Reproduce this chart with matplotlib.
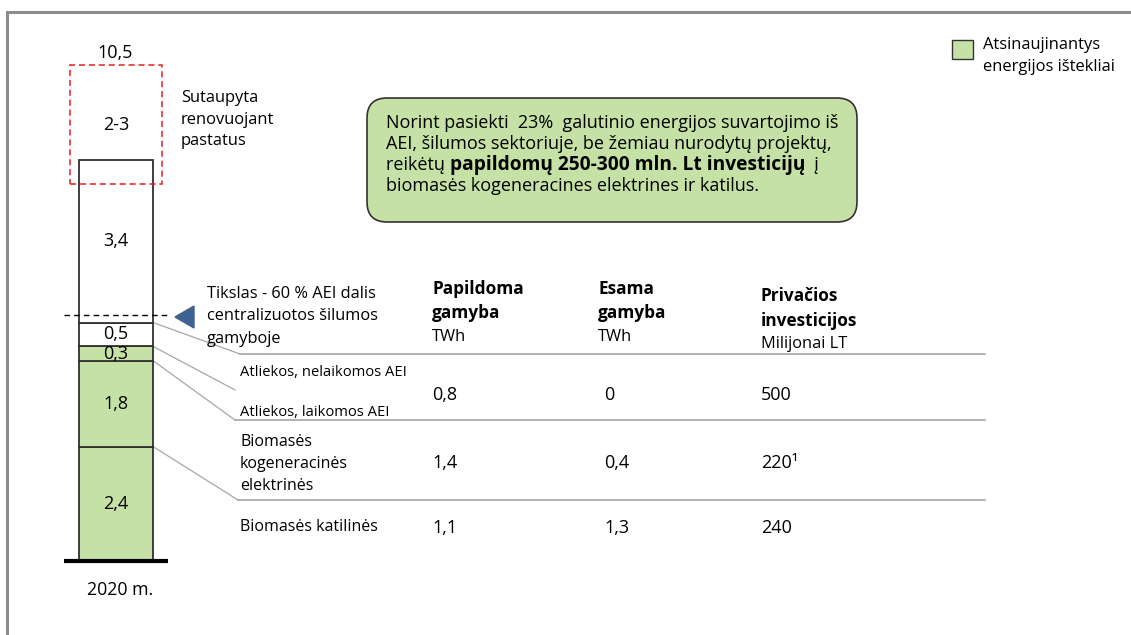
import numpy as np
import matplotlib
matplotlib.use("Agg")
import matplotlib.pyplot as plt
from matplotlib.patches import FancyBboxPatch, Rectangle, Polygon

plt.rcParams['font.family'] = ['Open Sans', 'DejaVu Sans']

# stacked column for 2020 (TWh), from bottom to top
segment_values = [2.4, 1.8, 0.3, 0.5, 3.4]
segment_labels = ['2,4', '1,8', '0,3', '0,5', '3,4']
segment_renewable = [True, True, True, False, False]
bar_category = '2020 m.'
total_label = '10,5'
savings_range = (7.9, 10.4)      # dashed red box
savings_label = '2-3'
target_level = 5.15              # dashed line "Tikslas - 60 % AEI"

# table to the right
row_names = [['Atliekos, nelaikomos AEI'], ['Atliekos, laikomos AEI'],
             ['Biomasės', 'kogeneracinės', 'elektrinės'], ['Biomasės katilinės']]
additional_twh = ['0,8', '1,4', '1,1']
existing_twh = ['0', '0,4', '1,3']
investment_mln = ['500', '220¹', '240']

GREEN = '#c5e1a5'
NUM = 13
W, H = 1131, 635
S = 47.7          # pixels per TWh
BASE = 561        # pixel row of the zero line


def py(p):
    return (BASE - p) / S


fig = plt.figure(figsize=(W / 100, H / 100), dpi=100)
ax = fig.add_axes([0, 0, 1, 1])
ax.set_xlim(0, W)
ax.set_ylim(py(H), py(0))
ax.axis('off')

ov = fig.add_axes([0, 0, 1, 1])
ov.set_xlim(0, W)
ov.set_ylim(H, 0)
ov.axis('off')

# outer frame
ov.plot([7, 7, W + 5], [H + 5, 12, 12], color='#8c8c8c', lw=2.2, solid_joinstyle='miter')

# stacked bar
bottoms = np.concatenate([[0], np.cumsum(segment_values)[:-1]])
for v, b, lab, ren in zip(segment_values, bottoms, segment_labels, segment_renewable):
    ax.bar(116, v, bottom=b, width=74, color=GREEN if ren else 'white',
           edgecolor='#303030', lw=1.3, zorder=3)
    ax.text(116, b + v / 2, lab, ha='center', va='center', fontsize=NUM, zorder=4)
ax.plot([64, 168], [0, 0], color='black', lw=3, solid_capstyle='butt', zorder=5)
ov.text(120, 590, bar_category, ha='center', va='center', fontsize=12.8)

# savings box
ax.add_patch(Rectangle((70, savings_range[0]), 92, savings_range[1] - savings_range[0],
                       fill=False, ec='#e0201e', lw=1.1, ls=(0, (4, 2.5)), zorder=6))
ax.text(116, np.mean(savings_range), savings_label, ha='center', va='center', fontsize=NUM)
ov.text(115, 53, total_label, ha='center', va='center', fontsize=NUM)
for i, s in enumerate(['Sutaupyta', 'renovuojant', 'pastatus']):
    ov.text(181, 98 + 21.5 * i, s, ha='left', va='center', fontsize=11.9)

# target line
ax.plot([64, 170], [target_level, target_level], color='black', lw=1, ls=(0, (4, 3)), zorder=6)
ov.add_patch(Polygon([(175, 317), (194, 306), (194, 328)], closed=True, color='#3f6290'))
for i, s in enumerate(['Tikslas - 60 % AEI dalis', 'centralizuotos šilumos', 'gamyboje']):
    ov.text(207, 294 + 22.5 * i, s, ha='left', va='center', fontsize=11.8)

# leader lines from segment tops to the table
tops = np.cumsum(segment_values)
leaders = [(tops[3], 240, 354, True), (tops[2], 235, 390, False),
           (tops[1], 235, 420, True), (tops[0], 238, 500, True)]
for top, x1, y1, rule in leaders:
    ax.plot([153, x1], [top, py(y1)], color='#a6a6a6', lw=0.9, zorder=2)
    if rule:
        ax.plot([x1, 985], [py(y1), py(y1)], color='#a6a6a6', lw=1.2, zorder=2)

# table headers
headers = [(432, 289, ['Papildoma', 'gamyba'], 'TWh'),
           (598, 289, ['Esama', 'gamyba'], 'TWh'),
           (761, 296, ['Privačios', 'investicijos'], 'Milijonai LT')]
for x, y0, bold, unit in headers:
    for i, s in enumerate(bold):
        ov.text(x, y0 + 24.5 * i, s, ha='left', va='center', fontsize=12.4, fontweight='bold')
    ov.text(x, y0 + 48, unit, ha='left', va='center', fontsize=11.8)

# row names
name_rows = [373, 413, 442, 527]
for lines, y0 in zip(row_names, name_rows):
    fs = 10.6 if lines[0].startswith('Atliekos') else 11.5
    for i, s in enumerate(lines):
        ov.text(240, y0 + 22 * i, s, ha='left', va='center', fontsize=fs)

# table values
value_rows = [395, 463, 528]
for col, x in zip([additional_twh, existing_twh, investment_mln], [432, 604, 761]):
    for s, y in zip(col, value_rows):
        ov.text(x, y, s, ha='left', va='center', fontsize=NUM)

# rounded note box
ov.add_patch(FancyBboxPatch((367, 98), 490, 124, boxstyle='round,pad=0,rounding_size=20',
                            fc=GREEN, ec='#333333', lw=1.2))
note_y = [123, 144, 165, 186]
ov.text(386, note_y[0], 'Norint pasiekti  23%  galutinio energijos suvartojimo iš',
        ha='left', va='center', fontsize=13)
ov.text(386, note_y[1], 'AEI, šilumos sektoriuje, be žemiau nurodytų projektų,',
        ha='left', va='center', fontsize=13)
t1 = ov.text(386, note_y[2], 'reikėtų ', ha='left', va='center', fontsize=13)
t2 = ov.annotate('papildomų 250-300 mln. Lt investicijų', xy=(1, 0.5), xycoords=t1,
                 ha='left', va='center', fontsize=13.8, fontweight='bold')
ov.annotate('  į', xy=(1, 0.5), xycoords=t2, ha='left', va='center', fontsize=13)
ov.text(386, note_y[3], 'biomasės kogeneracines elektrines ir katilus.',
        ha='left', va='center', fontsize=13)

# legend
ov.add_patch(Rectangle((952, 40), 21, 19, fc=GREEN, ec='#333333', lw=1))
ov.text(983, 45, 'Atsinaujinantys', ha='left', va='center', fontsize=11.9)
ov.text(983, 67, 'energijos ištekliai', ha='left', va='center', fontsize=11.9)

fig.savefig('out.png', dpi=100, facecolor='white')
